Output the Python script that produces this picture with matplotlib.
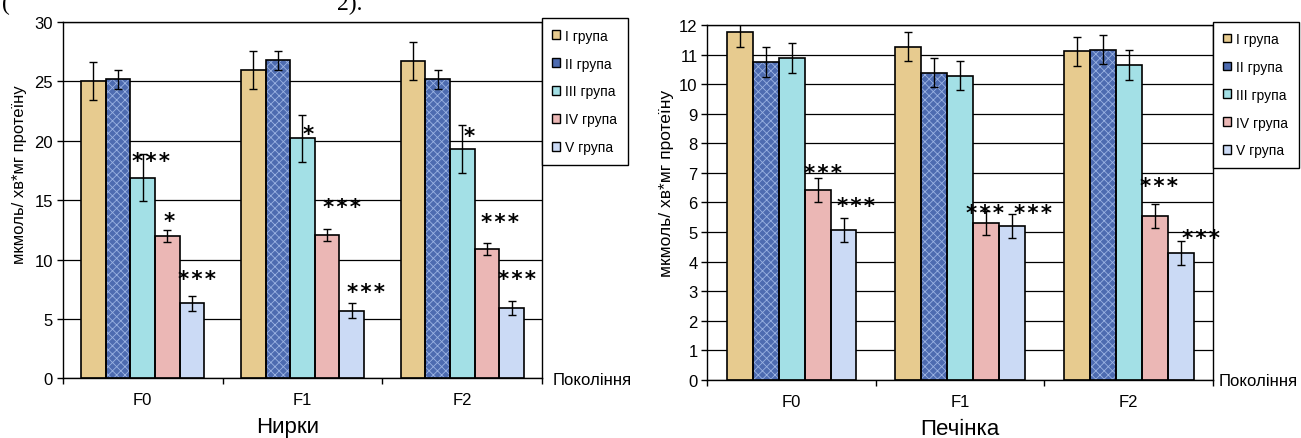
import numpy as np
import matplotlib
matplotlib.use("Agg")
import matplotlib.pyplot as plt
from matplotlib.patches import Patch

plt.rcParams['font.family'] = ['Liberation Sans', 'DejaVu Sans']
plt.rcParams['hatch.linewidth'] = 0.6

# групи та покоління
groups = ['I група', 'II група', 'III група', 'IV група', 'V група']
gens = ['F0', 'F1', 'F2']

# Нирки (значення по поколіннях F0, F1, F2)
kid_I = [25.0, 26.0, 26.7]
kid_II = [25.2, 26.8, 25.2]
kid_III = [16.9, 20.2, 19.3]
kid_IV = [12.0, 12.1, 10.9]
kid_V = [6.3, 5.7, 5.9]
kid_err_I = [1.6, 1.6, 1.6]
kid_err_II = [0.8, 0.8, 0.8]
kid_err_III = [2.0, 2.0, 2.0]
kid_err_IV = [0.5, 0.5, 0.5]
kid_err_V = [0.6, 0.6, 0.6]

# Печінка
liv_I = [11.77, 11.27, 11.11]
liv_II = [10.74, 10.39, 11.17]
liv_III = [10.89, 10.29, 10.65]
liv_IV = [6.43, 5.30, 5.55]
liv_V = [5.06, 5.20, 4.30]
liv_err_I = [0.5, 0.5, 0.5]
liv_err_II = [0.5, 0.5, 0.5]
liv_err_III = [0.5, 0.5, 0.5]
liv_err_IV = [0.4, 0.4, 0.4]
liv_err_V = [0.4, 0.4, 0.4]

# позначки достовірності (текст, x, y у координатах даних)
kid_star_txt = ['***', '*', '***', '*', '***', '***', '*', '***', '***']
kid_star_x = [0.052, 0.164, 0.339, 1.033, 1.245, 1.395, 2.04, 2.233, 2.339]
kid_star_y = [18.9, 13.82, 8.92, 21.13, 15.03, 7.88, 20.98, 13.77, 8.92]

liv_star_txt = ['***', '***', '***', '***', '***', '***']
liv_star_x = [0.186, 0.382, 1.148, 1.431, 2.178, 2.427]
liv_star_y = [7.24, 6.12, 5.89, 5.89, 6.80, 5.05]

colors = ['#E7CB8F', '#4D6BB0', '#A3E0E6', '#EBB7B5', '#CBDAF5']
hatch_col = ['#F0DCAE', '#9AB2E2', '#C9F1F3', '#F2CDCB', '#DCE6FA']
hatches = ['', 'xxxx', '', '', '']

w = 1 / 6.5
x = np.arange(len(gens))

fig = plt.figure(figsize=(13.01, 4.39), dpi=100)
ax1 = fig.add_axes([0.0482, 0.136, 0.3686, 0.8116])
ax2 = fig.add_axes([0.5437, 0.1321, 0.3887, 0.8087])


def draw(ax, series, errs, ymax, ystep, stars_t, stars_x, stars_y):
    for k, (vals, er) in enumerate(zip(series, errs)):
        xs = x + (k - 2) * w
        ax.bar(xs, vals, w, color=colors[k], hatch=hatches[k],
               edgecolor=hatch_col[k], linewidth=0, zorder=2)
        ax.bar(xs, vals, w, fill=False, edgecolor='black', linewidth=1.2, zorder=3)
        ax.errorbar(xs, vals, yerr=er, fmt='none', ecolor='black',
                    elinewidth=1, capsize=2.8, capthick=1, zorder=4)
    for t, sx, sy in zip(stars_t, stars_x, stars_y):
        ax.annotate('\u200a'.join(t), (sx, sy), xytext=(0, -5), textcoords='offset points',
                    ha='center', va='center', fontsize=15.5, fontweight='bold',
                    family='DejaVu Sans', zorder=5)
    ax.set_xlim(-0.5, 2.5)
    ax.set_ylim(0, ymax)
    ax.set_yticks(np.arange(0, ymax + 0.1, ystep))
    ax.set_xticks(x)
    ax.set_xticklabels(gens)
    ax.set_xticks([-0.5, 0.5, 1.5, 2.5], minor=True)
    ax.tick_params(axis='x', which='major', length=0, pad=10, labelsize=12)
    ax.tick_params(axis='x', which='minor', length=4, direction='out', width=1)
    ax.tick_params(axis='y', length=4, direction='out', width=1, labelsize=12, pad=3)
    ax.yaxis.grid(True, color='black', linewidth=0.9)
    ax.set_axisbelow(True)
    for s in ax.spines.values():
        s.set_color('black')
        s.set_linewidth(1)


draw(ax1, [kid_I, kid_II, kid_III, kid_IV, kid_V],
     [kid_err_I, kid_err_II, kid_err_III, kid_err_IV, kid_err_V],
     30, 5, kid_star_txt, kid_star_x, kid_star_y)
draw(ax2, [liv_I, liv_II, liv_III, liv_IV, liv_V],
     [liv_err_I, liv_err_II, liv_err_III, liv_err_IV, liv_err_V],
     12, 1, liv_star_txt, liv_star_x, liv_star_y)

handles = [Patch(facecolor=c, edgecolor='black', linewidth=1) for c in colors]
for ax, lx, ly in [(ax1, 541.7, 19.3), (ax2, 1212.5, 22.5)]:
    leg = ax.legend(handles, groups, loc='upper left',
                    bbox_to_anchor=(lx / 1301, 1 - ly / 439),
                    bbox_transform=fig.transFigure, fontsize=10,
                    frameon=True, fancybox=False, shadow=False,
                    edgecolor='black', framealpha=1,
                    handlelength=0.6, handleheight=0.6, handletextpad=0.35,
                    labelspacing=1.0, borderpad=0.75, borderaxespad=0)
    leg.get_frame().set_linewidth(1)
    leg.set_zorder(10)

# підписи
fig.text(20 / 1301, 1 - 175 / 439, 'мкмоль/ хв*мг протеїну', rotation=90,
         ha='center', va='center', fontsize=12)
fig.text(666 / 1301, 1 - 183 / 439, 'мкмоль/ хв*мг протеїну', rotation=90,
         ha='center', va='center', fontsize=12.5)
fig.text(553 / 1301, 1 - 381 / 439, 'Покоління', ha='left', va='center', fontsize=12)
fig.text(1219 / 1301, 1 - 382 / 439, 'Покоління', ha='left', va='center', fontsize=12)
fig.text(288 / 1301, 1 - 428 / 439, 'Нирки', ha='center', va='center', fontsize=16)
fig.text(960 / 1301, 1 - 430 / 439, 'Печінка', ha='center', va='center', fontsize=16)

# обрізаний текст документа над графіком
fig.text(2 / 1301, 1 - 10 / 439, '(', family='Liberation Serif', fontsize=17, va='baseline')
fig.text(337 / 1301, 1 - 10 / 439, '2).', family='Liberation Serif', fontsize=17, va='baseline')

plt.savefig('out.png', dpi=100)
